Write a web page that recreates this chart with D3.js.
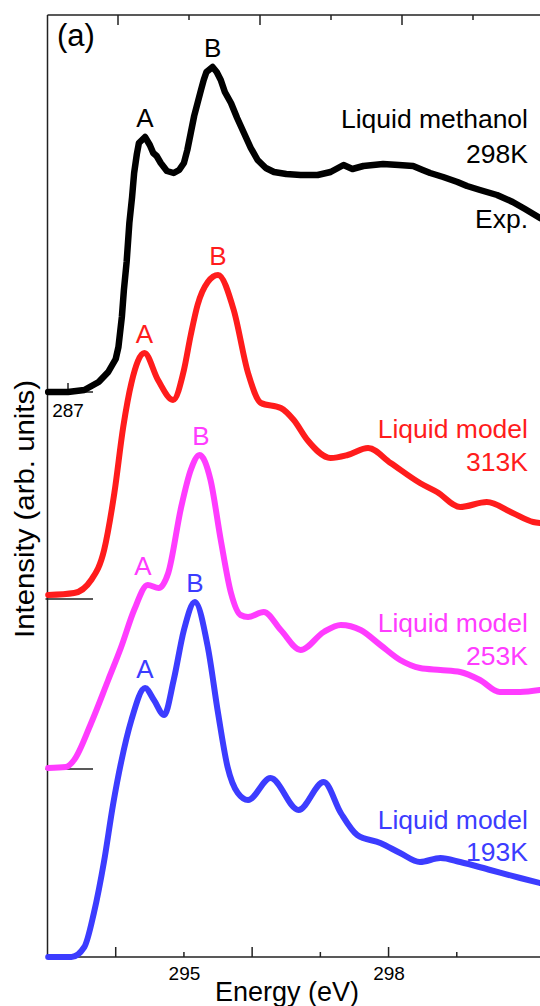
<!DOCTYPE html>
<html>
<head>
<meta charset="utf-8">
<script src="https://cdn.jsdelivr.net/npm/d3@7"></script>
<style>
  body { margin: 0; background: #fff; }
  svg { display: block; }
  text { font-family: "Liberation Sans", Arial, sans-serif; }
</style>
</head>
<body>
<svg id="chart" width="540" height="1006"></svg>
<script>
// Energy (eV) / intensity (arb. units, above each curve's own baseline)
const expE = [293.01, 293.30, 293.54, 293.75, 293.89, 294.00, 294.04, 294.09, 294.12, 294.16,
  294.20, 294.24, 294.27, 294.31, 294.34, 294.43, 294.50, 294.55, 294.60, 294.66, 294.75, 294.85,
  294.93, 295.00, 295.05, 295.10, 295.15, 295.20, 295.25, 295.29, 295.33, 295.42, 295.48, 295.54,
  295.60, 295.69, 295.78, 295.88, 295.98, 296.08, 296.20, 296.32, 296.50, 296.71, 296.96, 297.15,
  297.34, 297.47, 297.63, 297.92, 298.15, 298.36, 298.50, 298.61, 298.80, 299.01, 299.15, 299.34,
  299.59, 299.82, 300.00, 300.22];
const expI = [0, 0, 0.02, 0.10, 0.20, 0.33, 0.45, 0.75, 1.02, 1.30,
  1.69, 1.95, 2.19, 2.38, 2.49, 2.55, 2.47, 2.39, 2.36, 2.29, 2.21, 2.19,
  2.22, 2.29, 2.42, 2.59, 2.76, 2.89, 3.02, 3.12, 3.20, 3.25, 3.20, 3.12,
  3.00, 2.89, 2.74, 2.59, 2.44, 2.32, 2.24, 2.20, 2.18, 2.17, 2.17, 2.20,
  2.27, 2.23, 2.26, 2.28, 2.27, 2.26, 2.22, 2.19, 2.15, 2.10, 2.06, 2.02,
  1.97, 1.90, 1.83, 1.74];

const m313E = [293.01, 293.39, 293.64, 293.83, 293.98, 294.11, 294.23, 294.42, 294.62, 294.84,
  295.00, 295.10, 295.20, 295.35, 295.50, 295.73, 295.94, 296.13, 296.42, 296.61, 296.81, 297.15,
  297.40, 297.70, 298.03, 298.46, 298.71, 299.05, 299.44, 299.82, 300.12, 300.22];
const m313I = [0, 0.02, 0.15, 0.45, 1.02, 1.68, 2.12, 2.42, 2.15, 1.95,
  2.25, 2.60, 2.90, 3.13, 3.20, 2.85, 2.22, 1.92, 1.87, 1.75, 1.55, 1.37,
  1.40, 1.47, 1.32, 1.12, 1.03, 0.88, 0.93, 0.82, 0.73, 0.72];

const m253E = [293.01, 293.27, 293.39, 293.64, 293.89, 294.08, 294.27, 294.47, 294.63, 294.77,
  294.96, 295.10, 295.23, 295.39, 295.54, 295.69, 295.83, 295.94, 296.17, 296.42, 296.71, 297.05,
  297.30, 297.59, 297.88, 298.17, 298.46, 298.76, 299.05, 299.34, 299.63, 299.93, 300.22];
const m253I = [0, 0.01, 0.08, 0.45, 0.88, 1.21, 1.58, 1.83, 1.80, 1.95,
  2.61, 2.98, 3.13, 2.88, 2.28, 1.75, 1.53, 1.51, 1.56, 1.38, 1.18, 1.36,
  1.43, 1.38, 1.23, 1.08, 1.00, 0.98, 0.96, 0.88, 0.76, 0.76, 0.78];

const m193E = [293.01, 293.35, 293.54, 293.68, 293.83, 293.96, 294.08, 294.23, 294.43, 294.56,
  294.71, 294.85, 295.00, 295.16, 295.35, 295.50, 295.64, 295.79, 295.94, 296.27, 296.68, 297.05,
  297.30, 297.54, 297.88, 298.17, 298.46, 298.76, 299.05, 299.49, 299.93, 300.22];
const m193I = [0, 0, 0.10, 0.44, 0.96, 1.52, 1.95, 2.37, 2.69, 2.57,
  2.42, 2.77, 3.27, 3.55, 3.10, 2.44, 1.90, 1.64, 1.57, 1.79, 1.47, 1.75,
  1.44, 1.22, 1.14, 1.04, 0.95, 0.99, 0.95, 0.87, 0.79, 0.74];

// vertical offsets of the stacked spectra
const offsets = [5.65, 3.62, 1.89, 0];
const baselineTicks = [5.65, 3.58, 1.88];

// peak labels: letter and the energy of the peak it marks
const peakNames = ["A", "B"];
const peakE = [[294.43, 295.42], [294.42, 295.50], [294.40, 295.25], [294.43, 295.16]];

const seriesNames = [["Liquid methanol", "298K", "Exp."], ["Liquid model", "313K"],
  ["Liquid model", "253K"], ["Liquid model", "193K"]];

const bottomTicks = [294, 295, 296, 297, 298, 299];
const bottomLabels = [295, 298];

const series = [
  { E: expE, I: expI, color: "#000000", curve: d3.curveLinear, labelY: [128, 163, 228] },
  { E: m313E, I: m313I, color: "#ff1c1c", curve: d3.curveMonotoneX, labelY: [438, 471] },
  { E: m253E, I: m253I, color: "#ff3cff", curve: d3.curveMonotoneX, labelY: [632, 665] },
  { E: m193E, I: m193I, color: "#3c3cff", curve: d3.curveMonotoneX, labelY: [829, 861] }
];

const svg = d3.select("#chart");
const plotL = 47.5, plotT = 15, plotB = 957, plotR = 540;

const x = d3.scaleLinear().domain([293.0, 300.22]).range([plotL, plotR]);
const y = d3.scaleLinear().domain([0, 9.42]).range([plotB, plotT]);

// frame
const frame = svg.append("g").attr("stroke", "#222").attr("stroke-width", 1.5);
frame.append("line").attr("x1", plotL).attr("x2", plotL).attr("y1", plotT).attr("y2", plotB);
frame.append("line").attr("x1", plotL).attr("x2", plotR).attr("y1", plotT).attr("y2", plotT);
frame.append("line").attr("x1", plotL).attr("x2", plotR).attr("y1", plotB).attr("y2", plotB);

// bottom ticks (pointing inward, alternating length)
frame.selectAll(".btick").data(bottomTicks).enter().append("line")
  .attr("x1", d => x(d)).attr("x2", d => x(d))
  .attr("y1", plotB).attr("y2", (d, i) => plotB - (i % 2 ? 5 : 10));

svg.append("g")
  .attr("transform", "translate(0," + plotB + ")")
  .call(d3.axisBottom(x).tickValues(bottomLabels).tickSize(0).tickPadding(10))
  .call(g => g.select(".domain").remove())
  .selectAll("text")
  .attr("font-size", 19).attr("fill", "#000")
  .attr("font-family", "Liberation Sans, Arial, sans-serif");

// top ticks of the experimental panel
const topScale = d3.scaleLinear().domain([0, 5]).range([118, 473]);
frame.selectAll(".ttick").data(d3.range(6)).enter().append("line")
  .attr("x1", d => topScale(d)).attr("x2", d => topScale(d))
  .attr("y1", plotT).attr("y2", d => plotT + (d % 2 ? 5 : 10));

// baseline markers
frame.selectAll(".base").data(baselineTicks).enter().append("line")
  .attr("x1", plotL - 2).attr("x2", 93)
  .attr("y1", d => y(d)).attr("y2", d => y(d));

// experimental panel's own energy tick
frame.append("line").attr("x1", 68).attr("x2", 68).attr("y1", y(offsets[0])).attr("y2", y(offsets[0]) - 9);
svg.append("text").attr("x", 68).attr("y", 417).attr("text-anchor", "middle")
  .attr("font-size", 19).text("287");

// spectra
series.forEach((s, k) => {
  const pts = s.E.map((e, i) => [e, s.I[i] + offsets[k]]);
  const line = d3.line().x(d => x(d[0])).y(d => y(d[1])).curve(s.curve);
  svg.append("path")
    .attr("d", line(pts))
    .attr("fill", "none")
    .attr("stroke", s.color)
    .attr("stroke-width", k === 0 ? 6.5 : 6)
    .attr("stroke-linejoin", "round")
    .attr("stroke-linecap", "round");

  // A / B peak letters
  peakE[k].forEach((pe, j) => {
    const near = d3.least(pts, d => Math.abs(d[0] - pe));
    svg.append("text")
      .attr("x", x(pe)).attr("y", y(near[1]) - 10)
      .attr("text-anchor", "middle").attr("font-size", 26)
      .attr("fill", s.color).text(peakNames[j]);
  });

  // right-hand names
  seriesNames[k].forEach((t, j) => {
    svg.append("text")
      .attr("x", 528).attr("y", s.labelY[j])
      .attr("text-anchor", "end").attr("font-size", 26.5)
      .attr("fill", s.color).text(t);
  });
});

// panel tag and axis titles
svg.append("text").attr("x", 57).attr("y", 46).attr("font-size", 31).text("(a)");
svg.append("text").attr("x", 287).attr("y", 1001).attr("text-anchor", "middle")
  .attr("font-size", 27).text("Energy (eV)");
svg.append("text")
  .attr("transform", "translate(34,509) rotate(-90)")
  .attr("text-anchor", "middle").attr("font-size", 27)
  .attr("textLength", 258).attr("lengthAdjust", "spacingAndGlyphs")
  .text("Intensity (arb. units)");
</script>
</body>
</html>
